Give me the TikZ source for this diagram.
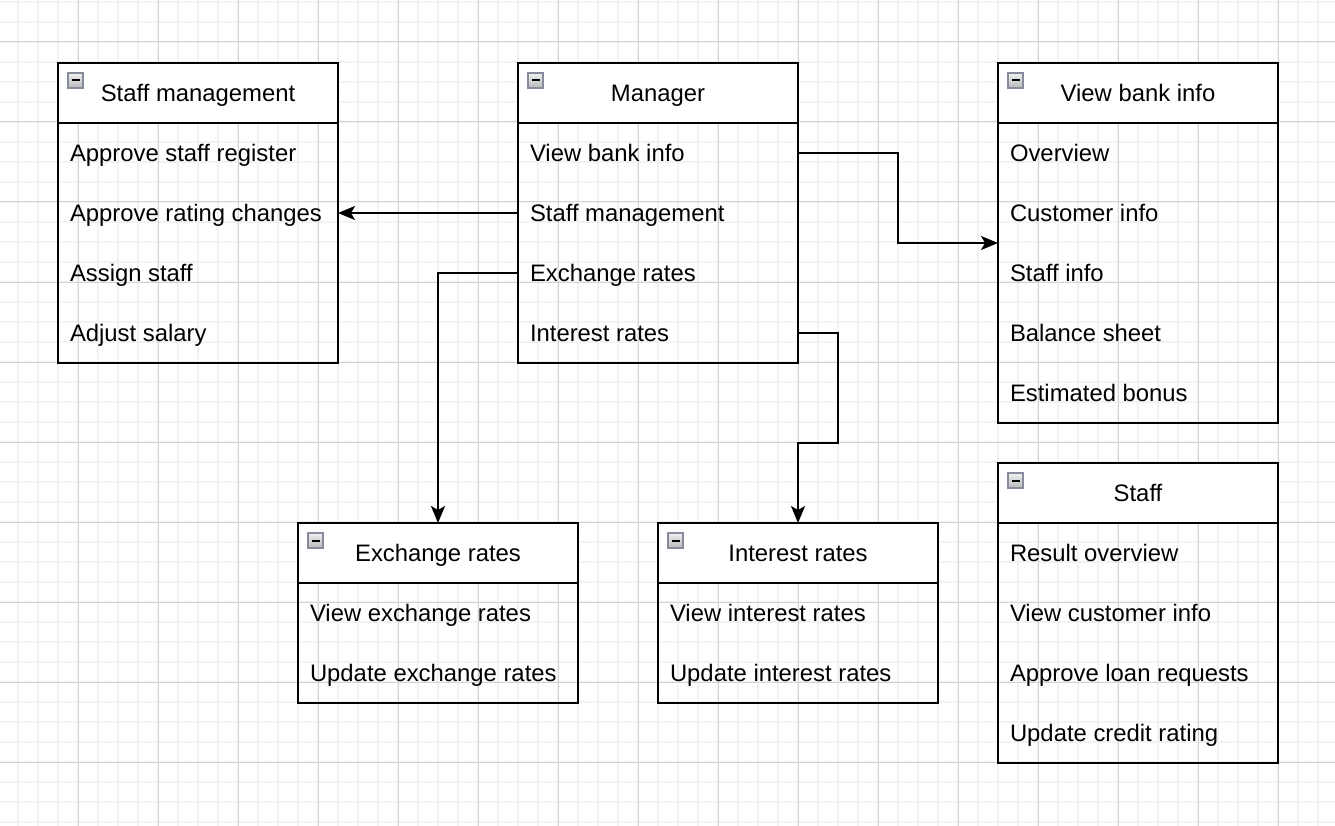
\documentclass[tikz,border=0pt]{standalone}
\usepackage{fontspec}
\setmainfont{Liberation Sans}
\usetikzlibrary{arrows.meta}
\definecolor{minorgrid}{HTML}{F2F2F2}
\definecolor{majorgrid}{HTML}{D4D4D4}
\definecolor{iconborder}{HTML}{868C9C}
\definecolor{icontop}{HTML}{F0F0F0}
\definecolor{iconbot}{HTML}{B8B8B8}
\newcommand\rowlabel[1]{\makebox[256pt][l]{#1}}
\tikzset{
  minorline/.style={draw=minorgrid, line width=1.5pt},
  majorline/.style={draw=majorgrid, line width=1pt},
  box/.style={draw=black, line width=2pt, minimum width=280pt, inner sep=0pt, outer sep=0pt},
  header/.style={box, fill=white, minimum height=60pt, font=\fontsize{23.85}{28}\selectfont, text height=23pt, text depth=6pt},
  row/.style={inner sep=0pt, outer sep=0pt, minimum width=280pt, minimum height=60pt, font=\fontsize{23.85}{28}\selectfont, text height=23pt, text depth=6pt},
  conn/.style={draw=black, line width=2pt, -{Stealth[length=17pt, width=14pt, inset=4pt]}},
  iconbox/.style={draw=iconborder, line width=1.5pt, top color=icontop, bottom color=iconbot}
}
\newcommand\collapseicon[2]{%
  \draw[iconbox] (#1+10,#2+10) rectangle (#1+25,#2+25);
  \draw[black, line width=2pt] (#1+13.5,#2+17.5) -- (#1+21.5,#2+17.5);
}
\begin{document}
\begin{tikzpicture}[x=1pt,y=-1pt]
\useasboundingbox (0,0) rectangle (1335,826);
\fill[white] (0,0) rectangle (1335,826);
% grid
\foreach \x in {18,38,...,1334} \draw[minorline] (\x,0) -- (\x,826);
\foreach \y in {2,22,...,826} \draw[minorline] (0,\y) -- (1335,\y);
\foreach \x in {78,158,...,1334} \draw[majorline] (\x,0) -- (\x,826);
\foreach \y in {42,122,...,826} \draw[majorline] (0,\y) -- (1335,\y);

% Staff management
\node[box, minimum height=300pt] (sm) at (198,213) {};
\node[header] (smh) at (198,93) {Staff management};
\collapseicon{58}{63}
\node[row] (sm1) at (198,153) {\rowlabel{Approve staff register}};
\node[row] (sm2) at (198,213) {\rowlabel{Approve rating changes}};
\node[row] (sm3) at (198,273) {\rowlabel{Assign staff}};
\node[row] (sm4) at (198,333) {\rowlabel{Adjust salary}};

% Manager
\node[box, minimum height=300pt] (mg) at (658,213) {};
\node[header] (mgh) at (658,93) {Manager};
\collapseicon{518}{63}
\node[row] (mg1) at (658,153) {\rowlabel{View bank info}};
\node[row] (mg2) at (658,213) {\rowlabel{Staff management}};
\node[row] (mg3) at (658,273) {\rowlabel{Exchange rates}};
\node[row] (mg4) at (658,333) {\rowlabel{Interest rates}};

% View bank info
\node[box, minimum height=360pt] (vb) at (1138,243) {};
\node[header] (vbh) at (1138,93) {View bank info};
\collapseicon{998}{63}
\node[row] (vb1) at (1138,153) {\rowlabel{Overview}};
\node[row] (vb2) at (1138,213) {\rowlabel{Customer info}};
\node[row] (vb3) at (1138,273) {\rowlabel{Staff info}};
\node[row] (vb4) at (1138,333) {\rowlabel{Balance sheet}};
\node[row] (vb5) at (1138,393) {\rowlabel{Estimated bonus}};

% Staff
\node[box, minimum height=300pt] (st) at (1138,613) {};
\node[header] (sth) at (1138,493) {Staff};
\collapseicon{998}{463}
\node[row] (st1) at (1138,553) {\rowlabel{Result overview}};
\node[row] (st2) at (1138,613) {\rowlabel{View customer info}};
\node[row] (st3) at (1138,673) {\rowlabel{Approve loan requests}};
\node[row] (st4) at (1138,733) {\rowlabel{Update credit rating}};

% Exchange rates
\node[box, minimum height=180pt] (ex) at (438,613) {};
\node[header] (exh) at (438,553) {Exchange rates};
\collapseicon{298}{523}
\node[row] (ex1) at (438,613) {\rowlabel{View exchange rates}};
\node[row] (ex2) at (438,673) {\rowlabel{Update exchange rates}};

% Interest rates
\node[box, minimum height=180pt] (ir) at (798,613) {};
\node[header] (irh) at (798,553) {Interest rates};
\collapseicon{658}{523}
\node[row] (ir1) at (798,613) {\rowlabel{View interest rates}};
\node[row] (ir2) at (798,673) {\rowlabel{Update interest rates}};

% connectors
\draw[conn] (mg1.east) -- ++(100,0) |- (vb.west);
\draw[conn] (mg2.west) -- (sm.east);
\draw[conn] (mg3.west) -| (ex.north);
\draw[conn] (mg4.east) -- ++(40,0) -- ++(0,110) -| (ir.north);
\end{tikzpicture}
\end{document}
